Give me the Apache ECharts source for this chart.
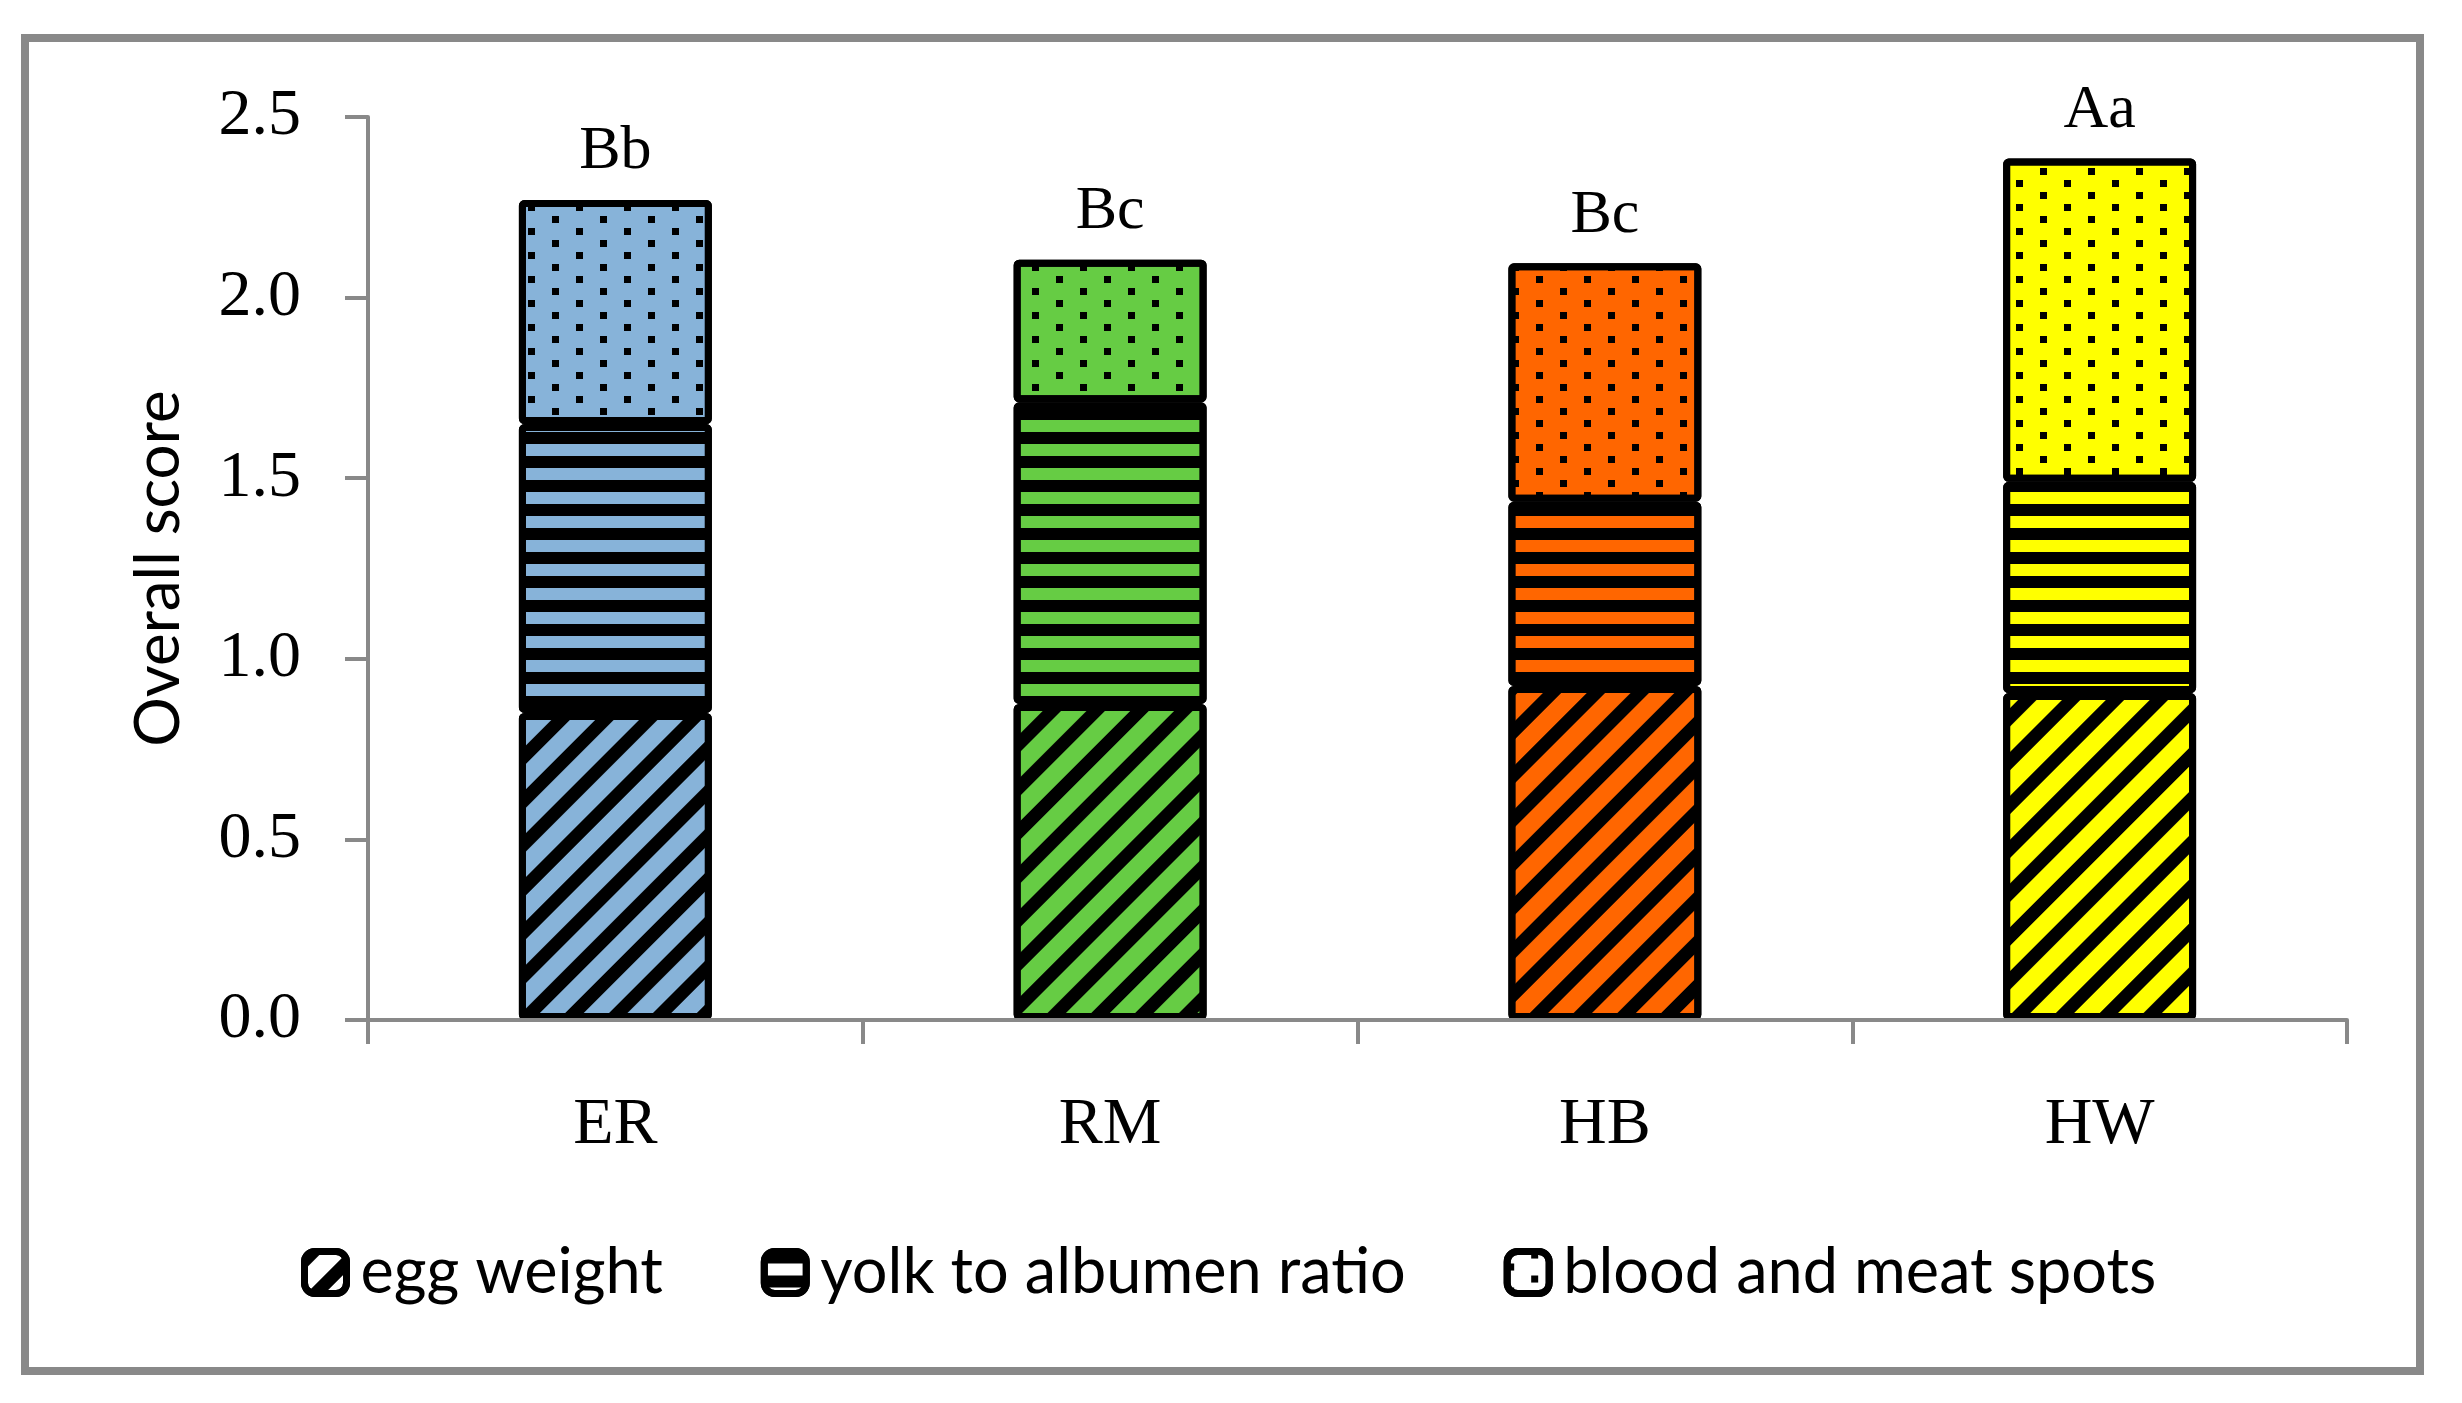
<!DOCTYPE html>
<html>
<head>
<meta charset="utf-8">
<style>
html,body{margin:0;padding:0;background:#fff;}
#chart{width:2462px;height:1403px;}
</style>
<script src="https://cdn.jsdelivr.net/npm/echarts@6/dist/echarts.min.js"></script>
</head>
<body>
<div id="chart"></div>
<script>
const categories = ['ER', 'RM', 'HB', 'HW'];
const eggWeight = [0.85, 0.875, 0.925, 0.905];
const yolkAlbumen = [0.80, 0.835, 0.51, 0.585];
const bloodMeat = [0.62, 0.395, 0.66, 0.895];
const letters = ['Bb', 'Bc', 'Bc', 'Aa'];
const seriesNames = ['egg weight', 'yolk to albumen ratio', 'blood and meat spots'];
const yTicks = [0, 0.5, 1.0, 1.5, 2.0, 2.5];
const barColors = ['#87B3D9', '#66CC44', '#FF6600', '#FFFF00'];

const decals = [
  { symbol: 'rect', color: '#000', dashArrayX: [1, 0], dashArrayY: [13, 18], rotation: -Math.PI / 4, symbolSize: 1 },
  { symbol: 'rect', color: '#000', dashArrayX: [1, 0], dashArrayY: [12, 12], rotation: 0, symbolSize: 1 },
  { symbol: 'rect', color: '#000', dashArrayX: [[7, 41], [0, 24, 7, 17]], dashArrayY: [7, 5], rotation: 0, symbolSize: 1 }
];
const values = [eggWeight, yolkAlbumen, bloodMeat];

const chart = echarts.init(document.getElementById('chart'), null, { renderer: 'canvas' });
const gray = '#898989';
const serif = '"Liberation Serif", "DejaVu Serif", serif';
const sans = 'Lato, "Open Sans", sans-serif';

const series = seriesNames.map((name, i) => ({
  name: name,
  type: 'bar',
  stack: 'total',
  barWidth: '39%',
  data: values[i],
  itemStyle: {
    color: (p) => barColors[p.dataIndex],
    borderColor: '#000',
    borderWidth: 7,
    borderRadius: 2,
    decal: decals[i]
  },
  emphasis: { disabled: true },
  label: i === 2 ? {
    show: true,
    position: 'top',
    distance: 17,
    formatter: (p) => letters[p.dataIndex],
    fontFamily: serif,
    fontSize: 62,
    color: '#000'
  } : { show: false }
}));

chart.setOption({
  animation: false,
  backgroundColor: '#fff',
  graphic: [{
    type: 'rect',
    shape: { x: 25, y: 38, width: 2395, height: 1333 },
    style: { fill: 'none', stroke: gray, lineWidth: 8 },
    z: 100
  }],
  grid: { left: 368, right: 115, top: 117, bottom: 383, containLabel: false },
  legend: {
    data: seriesNames.map(n => ({ name: n, itemStyle: { color: '#fff', borderColor: '#000', borderWidth: 7 } })),
    left: 296,
    top: 1236,
    itemWidth: 42,
    itemHeight: 42,
    itemGap: 98,
    icon: 'roundRect',
    textStyle: { fontFamily: sans, fontSize: 63, color: '#000', padding: [0, 0, 0, 9] },
    selectedMode: false
  },
  xAxis: {
    type: 'category',
    data: categories,
    z: 5,
    axisLine: { lineStyle: { color: gray, width: 4 } },
    axisTick: { show: true, length: 24, lineStyle: { color: gray, width: 4 } },
    axisLabel: { fontFamily: serif, fontSize: 66, color: '#000', margin: 73 }
  },
  yAxis: {
    type: 'value',
    min: 0,
    max: 2.5,
    interval: 0.5,
    name: 'Overall score',
    nameLocation: 'middle',
    nameGap: 178,
    nameTextStyle: { fontFamily: sans, fontSize: 62, color: '#000' },
    axisLine: { show: true, lineStyle: { color: gray, width: 4 } },
    axisTick: { show: true, length: 23, lineStyle: { color: gray, width: 4 } },
    splitLine: { show: false },
    axisLabel: {
      fontFamily: serif, fontSize: 66, color: '#000', margin: 67,
      formatter: (v) => yTicks.includes(v) ? v.toFixed(1) : ''
    }
  },
  series: series
});
</script>
</body>
</html>
